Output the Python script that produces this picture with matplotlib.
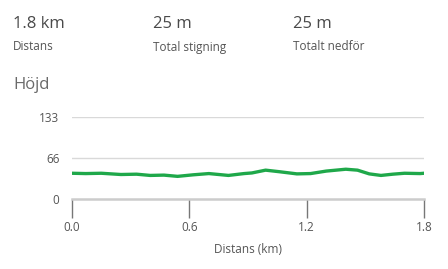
import matplotlib
matplotlib.use("Agg")
import matplotlib.pyplot as plt

# elevation profile
distance_km = [0.0, 0.07, 0.15, 0.25, 0.33, 0.40, 0.47, 0.54, 0.62, 0.70,
               0.80, 0.88, 0.92, 0.99, 1.06, 1.15, 1.22, 1.30, 1.40, 1.46,
               1.52, 1.58, 1.64, 1.70, 1.78, 1.80]
elevation_m = [41.5, 41.0, 41.5, 39.5, 40.0, 38.0, 38.5, 36.5, 39.0, 41.0,
               38.0, 41.0, 42.0, 46.5, 44.0, 40.5, 41.0, 45.0, 48.0, 46.5,
               40.5, 38.0, 40.0, 41.5, 41.0, 41.5]

stat_values = ["1.8 km", "25 m", "25 m"]
stat_labels = ["Distans", "Total stigning", "Totalt nedför"]
stat_x = [13, 153, 293]

y_ticks = [0, 66, 133]
x_ticks = [0.0, 0.6, 1.2, 1.8]

plt.rcParams["font.family"] = ["Open Sans", "DejaVu Sans"]

W, H = 448, 269
fig = plt.figure(figsize=(W / 100, H / 100), dpi=100)

for x, val, lab in zip(stat_x, stat_values, stat_labels):
    fig.text(x / W, 1 - 24 / H, val, fontsize=12, color="#4a4a4a", va="center", ha="left")
    fig.text(x / W, 1 - 47 / H, lab, fontsize=8.5, color="#555555", va="center", ha="left")
fig.text(13 / W, 1 - 85 / H, "Höjd", fontsize=12, color="#6a6a6a", va="center", ha="left")

ax = fig.add_axes([72 / W, 70 / H, 352 / W, 82.5 / H])
ax.plot(distance_km, elevation_m, color="#1fa84a", lw=2.4, solid_capstyle="round",
        solid_joinstyle="round")
ax.set_xlim(0, 1.8)
ax.set_ylim(0, 133)

for s in ["top", "right", "left"]:
    ax.spines[s].set_visible(False)
ax.spines["bottom"].set_color("#cccccc")
ax.spines["bottom"].set_linewidth(1.8)

ax.set_yticks(y_ticks)
ax.set_yticklabels([str(v) for v in y_ticks])
for v in y_ticks[1:]:
    ax.axhline(v, color="#d9d9d9", lw=1, zorder=0)
ax.tick_params(axis="y", length=0, pad=9, labelsize=8.5, labelcolor="#555555")

ax.set_xticks(x_ticks)
ax.set_xticklabels([f"{v:.1f}" for v in x_ticks])
ax.tick_params(axis="x", direction="out", length=14, width=1, color="#777777",
               pad=2, labelsize=8.5, labelcolor="#555555")
ax.set_xlabel("Distans (km)", fontsize=8.5, color="#555555", labelpad=6)

fig.savefig("out.png", dpi=100)
